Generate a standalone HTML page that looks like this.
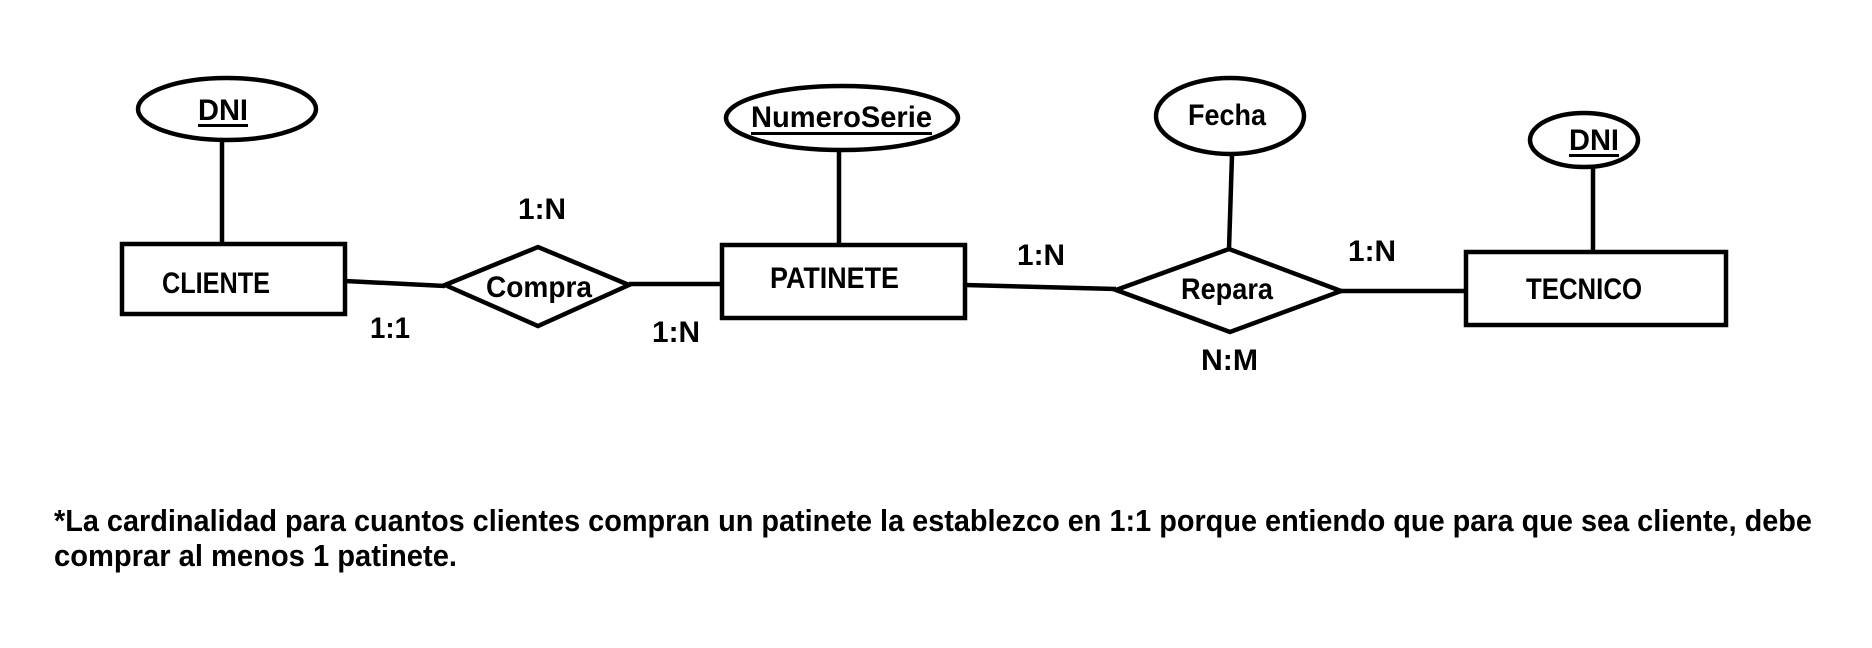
<!DOCTYPE html>
<html><head><meta charset="utf-8"><style>
html,body{margin:0;padding:0;background:#fff;}
svg{display:block;}
text{font-family:"Liberation Sans",sans-serif;font-weight:bold;fill:#000;}
</style></head><body>
<svg width="1872" height="648" viewBox="0 0 1872 648" xmlns="http://www.w3.org/2000/svg">
<g stroke="#000" stroke-width="4.5" fill="none">
<rect x="122" y="244" width="223" height="70"/>
<ellipse cx="227" cy="109" rx="89" ry="31"/>
<line x1="222" y1="141" x2="222" y2="244"/>
<polygon points="445,285 538,247 629,285 538,326"/>
<line x1="345" y1="281" x2="445" y2="286"/>
<line x1="629" y1="284" x2="722" y2="284"/>
<rect x="722" y="245" width="243" height="73"/>
<ellipse cx="842" cy="118" rx="116" ry="32"/>
<line x1="839" y1="151" x2="839" y2="245"/>
<line x1="965" y1="285" x2="1116" y2="289"/>
<polygon points="1116,290 1229,249 1341,291 1230,332"/>
<ellipse cx="1230" cy="116" rx="74" ry="38"/>
<line x1="1232" y1="155" x2="1229" y2="249"/>
<line x1="1341" y1="291" x2="1466" y2="291"/>
<rect x="1466" y="252" width="260" height="73"/>
<ellipse cx="1584" cy="140" rx="54" ry="27"/>
<line x1="1593" y1="167" x2="1593" y2="252"/>
</g>
<g font-size="30">
<text x="162" y="293" textLength="108" lengthAdjust="spacingAndGlyphs">CLIENTE</text>
<text x="770" y="288" textLength="129" lengthAdjust="spacingAndGlyphs">PATINETE</text>
<text x="1526" y="299" textLength="116" lengthAdjust="spacingAndGlyphs">TECNICO</text>
<text x="486" y="297" textLength="106" lengthAdjust="spacingAndGlyphs">Compra</text>
<text x="1181" y="299" textLength="92" lengthAdjust="spacingAndGlyphs">Repara</text>
<text x="198" y="120" textLength="50" lengthAdjust="spacingAndGlyphs">DNI</text>
<text x="1569" y="150" textLength="50" lengthAdjust="spacingAndGlyphs">DNI</text>
<text x="751" y="127" textLength="181" lengthAdjust="spacingAndGlyphs">NumeroSerie</text>
<text x="1188" y="125" textLength="78" lengthAdjust="spacingAndGlyphs">Fecha</text>
<text x="518" y="219" textLength="48" lengthAdjust="spacingAndGlyphs">1:N</text>
<text x="370" y="338" textLength="40" lengthAdjust="spacingAndGlyphs">1:1</text>
<text x="652" y="342" textLength="48" lengthAdjust="spacingAndGlyphs">1:N</text>
<text x="1017" y="265" textLength="48" lengthAdjust="spacingAndGlyphs">1:N</text>
<text x="1348" y="261" textLength="48" lengthAdjust="spacingAndGlyphs">1:N</text>
<text x="1201" y="370" textLength="57" lengthAdjust="spacingAndGlyphs">N:M</text>
</g>
<g fill="#000">
<rect x="198" y="124" width="50" height="3"/>
<rect x="1569" y="154" width="50" height="3"/>
<rect x="751" y="132" width="181" height="3"/>
</g>
<g font-size="31">
<text x="54" y="531" textLength="1758" lengthAdjust="spacingAndGlyphs">*La cardinalidad para cuantos clientes compran un patinete la establezco en 1:1 porque entiendo que para que sea cliente, debe</text>
<text x="54" y="566" textLength="403" lengthAdjust="spacingAndGlyphs">comprar al menos 1 patinete.</text>
</g>
</svg>
</body></html>
